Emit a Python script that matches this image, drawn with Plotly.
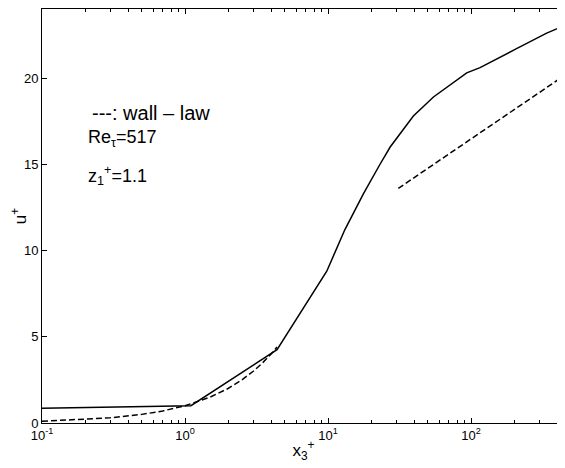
import plotly.graph_objects as go

# Simulation profile (solid)
x_sim = [0.1, 1.1, 4.4, 9.8, 13.1, 17.7, 23.1, 27.2, 39.5, 54.6, 93.3, 115.6, 208, 338, 454]
u_sim = [0.86, 1.0, 4.25, 8.8, 11.2, 13.3, 15.0, 16.0, 17.8, 18.9, 20.3, 20.6, 21.7, 22.6, 23.05]

# Wall law: viscous sublayer (dashed)
x_visc = [0.1, 0.2, 0.3, 0.5, 0.7, 1.0, 1.5, 2.0, 2.5, 3.0, 3.5, 4.0, 4.4]
u_visc = [0.1, 0.2, 0.3, 0.5, 0.7, 1.0, 1.5, 2.0, 2.5, 3.0, 3.5, 4.0, 4.4]

# Wall law: log region (dashed)
x_log = [31.0, 454]
u_log = [13.6, 20.17]

x_tickvals = [0.1, 1, 10, 100]
x_ticktext = ["10<sup>-1</sup>", "10<sup>0</sup>", "10<sup>1</sup>", "10<sup>2</sup>"]
x_minor = [0.2, 0.3, 0.4, 0.5, 0.6, 0.7, 0.8, 0.9,
           2, 3, 4, 5, 6, 7, 8, 9,
           20, 30, 40, 50, 60, 70, 80, 90,
           200, 300, 400]
y_tickvals = [0, 5, 10, 15, 20]

FONT = "Liberation Sans, Arial, sans-serif"
DASH = "6px,3px"

fig = go.Figure()
fig.add_trace(go.Scatter(x=x_sim, y=u_sim, mode="lines",
                         line=dict(color="black", width=1.5), showlegend=False))
fig.add_trace(go.Scatter(x=x_visc, y=u_visc, mode="lines",
                         line=dict(color="black", width=1.5, dash=DASH), showlegend=False))
fig.add_trace(go.Scatter(x=x_log, y=u_log, mode="lines",
                         line=dict(color="black", width=1.5, dash=DASH), showlegend=False))

# page body has an 8px default margin, so the figure is sized/offset to compensate
fig.update_layout(
    width=557, height=460,
    margin=dict(l=34, r=0, t=1, b=45),
    paper_bgcolor="white", plot_bgcolor="white",
    font=dict(family=FONT, color="black", size=13),
    xaxis=dict(
        type="log", range=[-1, 2.657], automargin=False,
        tickvals=x_tickvals, ticktext=x_ticktext,
        ticks="inside", ticklen=5, tickcolor="black",
        showline=True, linecolor="black", linewidth=1, mirror="ticks",
        showgrid=False, zeroline=False,
        minor=dict(tickvals=x_minor, ticks="inside", ticklen=3,
                   tickcolor="black", showgrid=False),
        title=dict(text="x<sub>3</sub><sup>+</sup>", font=dict(size=17), standoff=2),
        tickfont=dict(size=13),
    ),
    yaxis=dict(
        range=[0, 24], automargin=False,
        tickvals=y_tickvals,
        ticks="inside", ticklen=5, tickcolor="black",
        showline=True, linecolor="black", linewidth=1, mirror="ticks",
        showgrid=False, zeroline=False,
        title=dict(text="u<sup>+</sup>", font=dict(size=17), standoff=6),
        tickfont=dict(size=13),
    ),
)

fig.add_annotation(xref="paper", yref="paper", x=0.0918, y=0.749,
                   text="---: wall \u2013 law", showarrow=False,
                   xanchor="left", yanchor="middle", font=dict(size=20))
fig.add_annotation(xref="paper", yref="paper", x=0.0841, y=0.688,
                   text="Re<sub>\u03c4</sub>=517", showarrow=False,
                   xanchor="left", yanchor="middle", font=dict(size=18))
fig.add_annotation(xref="paper", yref="paper", x=0.0841, y=0.599,
                   text="z<sub>1</sub><sup>+</sup>=1.1", showarrow=False,
                   xanchor="left", yanchor="middle", font=dict(size=18))

fig.write_html("out.html")
